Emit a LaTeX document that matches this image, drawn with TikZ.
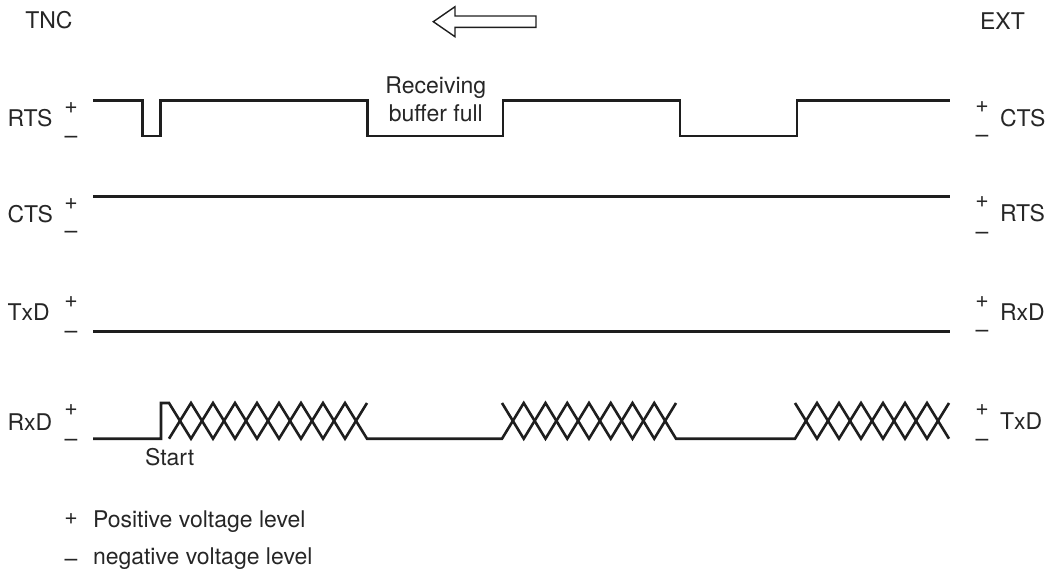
\documentclass[tikz,border=0pt]{standalone}
\usepackage{fontspec}
\setmainfont{TeX Gyre Heros}
\definecolor{ink}{HTML}{1E1E1E}
\definecolor{txt}{HTML}{262626}
\begin{document}
\begin{tikzpicture}[x=1pt,y=-1pt,
  wave/.style={line width=2.6pt, draw=ink, line join=miter},
  lbl/.style={anchor=base, inner sep=0pt, outer sep=0pt, text=txt, font=\fontsize{23}{27}\selectfont},
  lbll/.style={lbl, anchor=base west},
  arrowbox/.style={line width=1.4pt, draw=ink, fill=white, line join=miter}]
\useasboundingbox (0,0) rectangle (1055,570);
% headings
\node[lbl] (tnc) at (49,28.5) {TNC};
\node[lbl] (ext) at (1002.5,29) {EXT};
\draw[arrowbox] (433.3,21.7) -- (455,6.7) -- (455,16) -- (536,16) -- (536,27.3) -- (455,27.3) -- (455,36.7) -- cycle;
% left labels
\node[lbll] (lrts) at (7.5,126.7) {RTS};
\node[lbll] (lcts) at (7.5,222.5) {CTS};
\node[lbll] (ltxd) at (7.5,320) {TxD};
\node[lbll] (lrxd) at (7.5,430) {RxD};
\node[lbl] (lp1) at (71,113.3) {+};
\node[lbl] (lm1) at (71,143.7) {–};
\node[lbl] (lp2) at (71,209) {+};
\node[lbl] (lm2) at (71,238.9) {–};
\node[lbl] (lp3) at (71,307.3) {+};
\node[lbl] (lm3) at (71,338.7) {–};
\node[lbl] (lp4) at (71,415.6) {+};
\node[lbl] (lm4) at (71,446.2) {–};
% right labels
\node[lbll] (rcts) at (1000,126.7) {CTS};
\node[lbll] (rrts) at (1000,221.7) {RTS};
\node[lbll] (rrxd) at (1000,320) {RxD};
\node[lbll] (rtxd) at (1000,429.5) {TxD};
\node[lbl] (rp1) at (982,112.3) {+};
\node[lbl] (rm1) at (982,142.9) {–};
\node[lbl] (rp2) at (982,207.3) {+};
\node[lbl] (rm2) at (982,239.2) {–};
\node[lbl] (rp3) at (982,307.3) {+};
\node[lbl] (rm3) at (982,337.9) {–};
\node[lbl] (rp4) at (982,415.6) {+};
\node[lbl] (rm4) at (982,446.2) {–};
% RTS
\draw[wave] (93,100.7) -- (142.7,100.7) -- (142.7,136) -- (160.7,136) -- (160.7,100.7)
  -- (367.7,100.7) -- (367.7,136) -- (503,136) -- (503,100.7) -- (680,100.7)
  -- (680,136) -- (797,136) -- (797,100.7) -- (950,100.7);
\node[lbl] (rb1) at (435.8,93.3) {Receiving};
\node[lbl] (rb2) at (435.8,121) {buffer full};
% CTS
\draw[wave] (93,196.7) -- (950,196.7);
% TxD
\draw[wave] (93,331.7) -- (950,331.7);
% RxD
\def\ryh{403}\def\ryl{438.7}
\draw[wave] (93,\ryl) -- (161,\ryl) -- (161,\ryh) -- (169,\ryh)
  \foreach \k in {1,...,9} { -- ({169+22*\k},{\ryh+35.7*mod(\k,2)}) }
  -- (502,\ryl)
  \foreach \k in {1,...,8} { -- ({502+21.75*\k},{\ryl-35.7*mod(\k,2)}) }
  -- (795,\ryl)
  \foreach \k in {1,...,7} { -- ({795+22*\k},{\ryl-35.7*mod(\k,2)}) };
\draw[wave] (169,\ryl) \foreach \k in {1,...,9} { -- ({169+22*\k},{\ryl-35.7*mod(\k,2)}) };
\draw[wave] (502,\ryh) \foreach \k in {1,...,8} { -- ({502+21.75*\k},{\ryh+35.7*mod(\k,2)}) };
\draw[wave] (795,\ryh) \foreach \k in {1,...,7} { -- ({795+22*\k},{\ryh+35.7*mod(\k,2)}) };
\node[lbll] (start) at (145,465) {Start};
% legend
\node[lbl] (gp) at (71,524.6) {+};
\node[lbll] (gpt) at (93,527) {Positive voltage level};
\node[lbl] (gm) at (71,566) {–};
\node[lbll] (gmt) at (93,564) {negative voltage level};
\end{tikzpicture}
\end{document}
